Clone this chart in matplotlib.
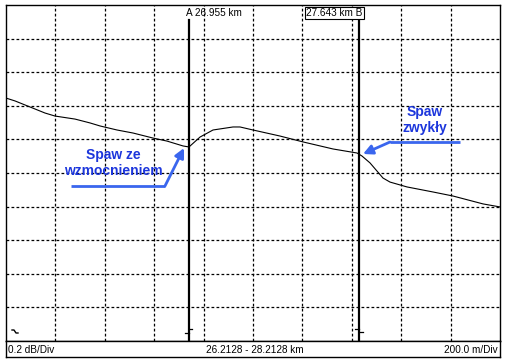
import matplotlib
matplotlib.use("Agg")
import matplotlib.pyplot as plt
import matplotlib.transforms as mtransforms

plt.rcParams['font.family'] = ['Liberation Sans', 'DejaVu Sans']
plt.rcParams['lines.scale_dashes'] = False

# ---- data ----
x_start_km = 26.2128
x_end_km = 28.2128
km_per_div = 0.2
db_per_div = 0.2
n_div = 10
cursor_a_km = 26.955
cursor_b_km = 27.643

trace_km = [26.2128, 26.2492, 26.3100, 26.3707, 26.4112, 26.4922, 26.5529, 26.5934,
            26.6622, 26.7270, 26.8080, 26.8646, 26.9294, 26.9537, 26.9983, 27.0509,
            27.1319, 27.1602, 27.2128, 27.3221, 27.4152, 27.5367, 27.6339, 27.6541,
            27.6865, 27.7391, 27.7675, 27.8363, 27.9416, 28.0225, 28.1440, 28.2128]
trace_db = [1.446, 1.429, 1.393, 1.357, 1.339, 1.321, 1.298, 1.280,
            1.256, 1.238, 1.208, 1.190, 1.161, 1.155, 1.214, 1.256,
            1.274, 1.274, 1.256, 1.220, 1.185, 1.143, 1.119, 1.101,
            1.060, 0.970, 0.946, 0.917, 0.887, 0.863, 0.816, 0.798]

label_weld_1 = "Spaw ze\nwzmocnieniem"
label_weld_2 = "Spaw\nzwykły"
bar_left = "0.2 dB/Div"
bar_mid = "26.2128 - 28.2128 km"
bar_right = "200.0 m/Div"

W, H = 507, 361
fig = plt.figure(figsize=(W / 100, H / 100), dpi=100)

def rect(x0, y0, x1, y1):
    return [x0 / W, 1 - y1 / H, (x1 - x0) / W, (y1 - y0) / H]

ax = fig.add_axes(rect(6, 5, 500, 341))
ymax = n_div * db_per_div
ax.set_xlim(x_start_km, x_end_km)
ax.set_ylim(0, ymax)
ax.set_xticks([])
ax.set_yticks([])
for s in ax.spines.values():
    s.set_linewidth(1.0)
    s.set_color('black')

# grid
for i in range(1, n_div):
    xv = x_start_km + i * km_per_div
    ax.axvline(xv, color='black', lw=0.9, dashes=(2.0, 1.6), zorder=1)
    ax.axhline(i * db_per_div, color='black', lw=0.9, dashes=(2.0, 1.6), zorder=1)

# trace
ax.plot(trace_km, trace_db, color='black', lw=0.8, zorder=3)

px_km = (x_end_km - x_start_km) / 494.0
px_db = ymax / 336.0

# cursors
ax.plot([cursor_a_km, cursor_a_km], [0, ymax - 15 * px_db], color='black', lw=1.6, zorder=4)
ax.plot([cursor_b_km, cursor_b_km], [0, ymax - 13 * px_db], color='black', lw=1.6, zorder=4)
ax.text(cursor_a_km - 3 * px_km, ymax - 8 * px_db, f"A {cursor_a_km:.3f} km",
        fontsize=7.2, ha='left', va='center', zorder=5)
ax.text(cursor_b_km + 3.5 * px_km, ymax - 8 * px_db, f"{cursor_b_km:.3f} km B",
        fontsize=7.2, ha='right', va='center', zorder=5,
        bbox=dict(boxstyle='square,pad=0.1', fc='white', ec='black', lw=0.8))

# small cursor foot marks
ax.plot([cursor_a_km - 4 * px_km, cursor_a_km], [8 * px_db, 8 * px_db], color='black', lw=0.9)
ax.plot([cursor_a_km, cursor_a_km + 3 * px_km], [12 * px_db, 12 * px_db], color='black', lw=0.9)
ax.plot([cursor_b_km - 4 * px_km, cursor_b_km], [12 * px_db, 12 * px_db], color='black', lw=0.9)
ax.plot([cursor_b_km, cursor_b_km + 4 * px_km], [9 * px_db, 9 * px_db], color='black', lw=0.9)
ax.plot([x_start_km + 6 * px_km, x_start_km + 8 * px_km, x_start_km + 10 * px_km, x_start_km + 12 * px_km],
        [11 * px_db, 11 * px_db, 8 * px_db, 8 * px_db], color='black', lw=1.0)

# annotations
text_col = '#1c36dc'
arrow_col = '#3a66ee'

ax.text(26.646, 1.06, label_weld_1, color=text_col, fontsize=10, fontweight='bold',
        ha='center', va='center', linespacing=1.15, zorder=6)
ax.plot([26.476, 26.8565], [0.9226, 0.9226], color=arrow_col, lw=2.0, solid_capstyle='butt', zorder=6)
ax.annotate('', xy=(26.9335, 1.1488), xytext=(26.8565, 0.9226),
            arrowprops=dict(arrowstyle='-|>', color=arrow_col, lw=2.0, mutation_scale=14,
                            shrinkA=0, shrinkB=0), zorder=6)

ax.text(27.909, 1.315, label_weld_2, color=text_col, fontsize=10, fontweight='bold',
        ha='center', va='center', linespacing=1.15, zorder=6)
ax.plot([28.0508, 27.7675], [1.1845, 1.1845], color=arrow_col, lw=2.0, solid_capstyle='butt', zorder=6)
ax.annotate('', xy=(27.6581, 1.1131), xytext=(27.7675, 1.1845),
            arrowprops=dict(arrowstyle='-|>', color=arrow_col, lw=2.0, mutation_scale=14,
                            shrinkA=0, shrinkB=0), zorder=6)

# bottom info bar
bar = fig.add_axes(rect(6, 341, 500, 357))
bar.set_xlim(0, 1)
bar.set_ylim(0, 1)
bar.set_xticks([])
bar.set_yticks([])
for s in bar.spines.values():
    s.set_linewidth(1.0)
bar.text(0.005, 0.45, bar_left, fontsize=7.2, ha='left', va='center')
bar.text(0.503, 0.45, bar_mid, fontsize=7.2, ha='center', va='center')
bar.text(0.995, 0.45, bar_right, fontsize=7.2, ha='right', va='center')

fig.savefig("out.png", dpi=100)
